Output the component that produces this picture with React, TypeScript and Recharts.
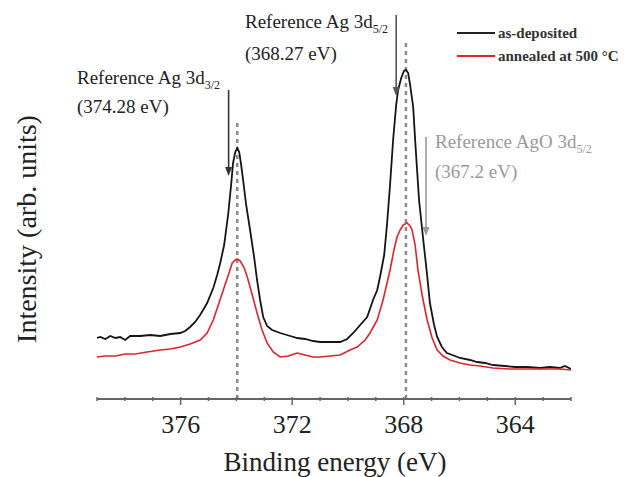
import { LineChart, Line, XAxis, YAxis, ReferenceLine } from 'recharts'

// binding energy (eV) / intensity (arb. units)
const AS_DEP_BE = [
  379.0, 378.88, 378.7, 378.52, 378.34, 378.17, 377.99, 377.81, 377.45, 377.09, 376.73, 376.37, 376.01,
  375.84, 375.66, 375.48, 375.3, 375.05, 374.83, 374.69, 374.58, 374.44, 374.29, 374.19, 374.12, 374.04,
  373.97, 373.9, 373.83, 373.76, 373.65, 373.51, 373.36, 373.26, 373.15, 373.04, 372.9, 372.72, 372.43,
  372.07, 371.82, 371.54, 371.25, 371.0, 370.64, 370.28, 370.03, 369.81, 369.56, 369.31, 369.1, 368.95,
  368.85, 368.7, 368.6, 368.49, 368.38, 368.27, 368.2, 368.09, 367.99, 367.92, 367.84, 367.77, 367.66,
  367.59, 367.52, 367.45, 367.31, 367.16, 367.06, 366.91, 366.8, 366.63, 366.45, 366.16, 365.98, 365.62,
  365.37, 365.08, 364.8, 364.37, 364.01, 363.58, 363.11, 362.75, 362.4, 362.22, 362.0,
]
const AS_DEP_I = [
  61, 62, 60, 63, 61, 62, 59, 63, 63, 64, 63, 65, 66,
  68, 72, 77, 84, 96, 111, 124, 136, 154, 186, 214, 236, 247,
  251, 247, 234, 219, 194, 169, 141, 119, 99, 82, 73, 69, 66,
  63, 61, 60, 58, 57, 57, 57, 60, 66, 74, 82, 99, 109,
  122, 144, 174, 214, 259, 294, 309, 321, 328, 329, 326, 314, 292,
  259, 229, 199, 162, 124, 96, 74, 62, 52, 46, 43, 41, 39,
  37, 36, 34, 33, 32, 32, 31, 32, 31, 33, 30,
]

const ANNEALED_BE = [
  379.0, 378.7, 378.34, 377.99, 377.63, 377.2, 376.73, 376.37, 376.01, 375.66, 375.3, 375.05, 374.83,
  374.65, 374.47, 374.29, 374.15, 374.04, 373.97, 373.86, 373.72, 373.61, 373.43, 373.26, 373.08, 372.9,
  372.68, 372.43, 372.14, 371.82, 371.54, 371.25, 371.0, 370.64, 370.28, 369.92, 369.67, 369.38, 369.21,
  368.95, 368.74, 368.49, 368.35, 368.24, 368.13, 368.02, 367.88, 367.77, 367.7, 367.59, 367.49, 367.34,
  367.16, 366.98, 366.8, 366.59, 366.34, 365.98, 365.62, 365.26, 364.8, 364.19, 363.58, 362.93, 362.4, 362.0,
]
const ANNEALED_I = [
  42, 43, 43, 45, 45, 47, 49, 50, 52, 55, 59, 66, 79,
  94, 109, 124, 136, 139, 140, 138, 131, 122, 104, 86, 69, 56,
  47, 42, 43, 46, 44, 42, 42, 43, 44, 49, 52, 59, 66,
  79, 99, 129, 149, 162, 169, 174, 176, 173, 169, 154, 129, 104,
  79, 61, 49, 43, 39, 36, 34, 33, 31, 30, 30, 30, 30, 29,
]

const ENERGY_TICKS = [379, 378, 377, 376, 375, 374, 373, 372, 371, 370, 369, 368, 367, 366, 365, 364, 363, 362]
const LABELED_TICKS = [376, 372, 368, 364]

// peak positions (dashed) and reference energies (arrows)
const PEAK_LINES = [
  { be: 373.97, top: 277 },
  { be: 367.92, top: 359 },
]
const REF_ARROWS = [
  { be: 374.28, from: 309, to: 223, color: '#333' },
  { be: 368.27, from: 384, to: 303, color: '#555' },
  { be: 367.2, from: 262, to: 163, color: '#9a9a9a' },
]

const asDeposited = AS_DEP_BE.map((be, i) => ({ be, v: AS_DEP_I[i] }))
const annealed = ANNEALED_BE.map((be, i) => ({ be, v: ANNEALED_I[i] }))

const FONT = '"Liberation Serif", "DejaVu Serif", serif'

function EnergyTick({ x, y, payload }: any) {
  const major = LABELED_TICKS.includes(payload.value)
  return (
    <g>
      <line x1={x} x2={x} y1={y - 2} y2={y + (major ? 6 : 2)} stroke="#666" strokeWidth={1.5} />
      {major && (
        <text x={x} y={y + 34} textAnchor="middle" fontSize={26} fill="#222" fontFamily={FONT}>
          {payload.value}
        </text>
      )}
    </g>
  )
}

function Arrow({ x1, y1, x2, y2, stroke }: any) {
  return (
    <g>
      <line x1={x1} y1={y1} x2={x2} y2={y2 - 6} stroke={stroke} strokeWidth={1.6} />
      <polygon points={`${x2 - 3.5},${y2 - 9} ${x2 + 3.5},${y2 - 9} ${x2},${y2}`} fill={stroke} />
    </g>
  )
}

export default function App() {
  return (
    <div style={{ position: 'fixed', left: 0, top: 0, width: 630, height: 477, background: '#fff' }}>
      <LineChart width={630} height={477} margin={{ top: 9, right: 59, bottom: 18, left: 97 }}>
        <XAxis
          dataKey="be"
          type="number"
          domain={[362, 379]}
          reversed
          allowDataOverflow
          ticks={ENERGY_TICKS}
          interval={0}
          tick={<EnergyTick />}
          tickLine={false}
          tickSize={0}
          tickMargin={0}
          height={60}
          axisLine={{ stroke: '#666', strokeWidth: 2 }}
        />
        <YAxis hide width={0} type="number" domain={[0, 390]} allowDataOverflow />

        {PEAK_LINES.map(p => (
          <ReferenceLine
            key={p.be}
            segment={[{ x: p.be, y: 0 }, { x: p.be, y: p.top }]}
            stroke="#8a8a8a"
            strokeWidth={2.5}
            strokeDasharray="4 4"
          />
        ))}

        <Line data={asDeposited} dataKey="v" type="linear" stroke="#151515" strokeWidth={1.8} dot={false} isAnimationActive={false} />
        <Line data={annealed} dataKey="v" type="linear" stroke="#e3232b" strokeWidth={1.6} dot={false} isAnimationActive={false} />

        {REF_ARROWS.map(a => (
          <ReferenceLine
            key={a.be}
            segment={[{ x: a.be, y: a.from }, { x: a.be, y: a.to }]}
            stroke={a.color}
            shape={<Arrow />}
          />
        ))}
      </LineChart>

      {/* titles, annotations and legend */}
      <svg width={630} height={477} style={{ position: 'absolute', left: 0, top: 0, pointerEvents: 'none' }} fontFamily={FONT}>
        <text transform="translate(36,229) rotate(-90)" textAnchor="middle" fontSize={28} fill="#222">
          Intensity (arb. units)
        </text>
        <text x={335} y={471} textAnchor="middle" fontSize={27} fill="#222">Binding energy (eV)</text>

        <text x={77} y={84} fontSize={19} fill="#222">
          Reference Ag 3d<tspan fontSize={12} dy={5}>3/2</tspan>
        </text>
        <text x={77} y={113} fontSize={19} fill="#222">(374.28 eV)</text>

        <text x={245} y={28} fontSize={19} fill="#222">
          Reference Ag 3d<tspan fontSize={12} dy={5}>5/2</tspan>
        </text>
        <text x={245} y={60} fontSize={19} fill="#222">(368.27 eV)</text>

        <text x={435} y={148} fontSize={19} fill="#9a9a9a">
          Reference AgO 3d<tspan fontSize={12} dy={5}>5/2</tspan>
        </text>
        <text x={435} y={178} fontSize={19} fill="#9a9a9a">(367.2 eV)</text>

        <line x1={457} x2={495} y1={33} y2={33} stroke="#222" strokeWidth={2.2} />
        <text x={498} y={38} fontSize={15} fontWeight="bold" fill="#333">as-deposited</text>
        <line x1={457} x2={495} y1={56} y2={56} stroke="#e3232b" strokeWidth={2} />
        <text x={498} y={61} fontSize={15} fontWeight="bold" fill="#333">annealed at 500 °C</text>
      </svg>
    </div>
  )
}
